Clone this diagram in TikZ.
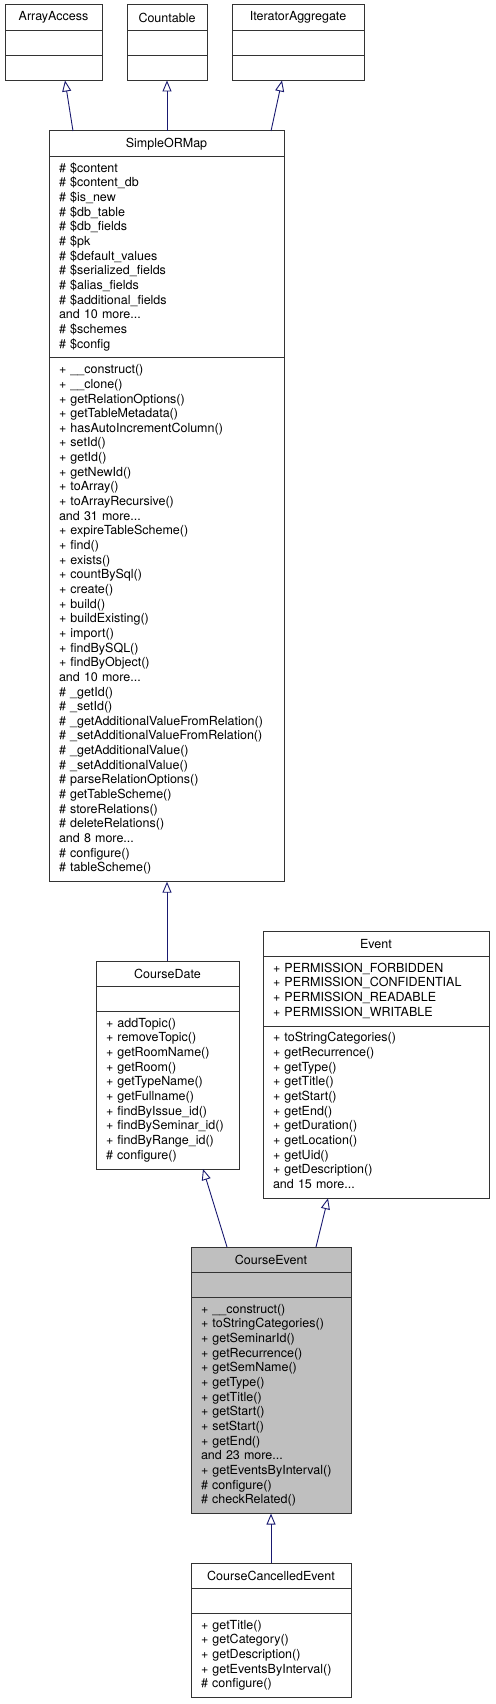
\documentclass[tikz,border=0pt]{standalone}
\usepackage{fontspec}
\setmainfont{TeX Gyre Heros}
\usetikzlibrary{positioning,arrows.meta}
\definecolor{edgeblue}{HTML}{191970}
\begin{document}
\begin{tikzpicture}[x=1pt,y=-1pt]
\tikzset{hd/.style={draw=black!80,line width=1pt,fill=white,outer sep=0pt,inner sep=0pt,anchor=north west,minimum width=#1,minimum height=25.5pt,font=\fontsize{12.5}{14.65}\selectfont},
emp/.style={draw=black!80,line width=1pt,fill=white,outer sep=0pt,inner sep=0pt,minimum width=#1,minimum height=25pt},
sec/.style={draw=black!80,line width=1pt,fill=white,outer sep=0pt,inner xsep=10pt,inner ysep=5.5pt,text width=#1,align=left,font=\fontsize{12.5}{14.65}\selectfont,execute at begin node=\strut,execute at end node=\strut},
gen/.style={draw=edgeblue,line width=0.9pt,-{Triangle[open,length=11pt,width=9pt]}}}
\useasboundingbox(0,0)rectangle(495,1704);
%%Interfaces
\path(5,5)node[hd=97pt](aa){ArrayAccess};
\node[emp=97pt,below=0pt of aa](aa1){};
\node[emp=97pt,below=0pt of aa1](aa2){};
\path(127,5)node[hd=80pt](cnt){Countable};
\node[emp=80pt,below=0pt of cnt](cnt1){};
\node[emp=80pt,below=0pt of cnt1](cnt2){};
\path(232,5)node[hd=132pt](ia){IteratorAggregate};
\node[emp=132pt,below=0pt of ia](ia1){};
\node[emp=132pt,below=0pt of ia1](ia2){};
%%SimpleORMap
\path(49,131)node[hd=235pt](som){SimpleORMap};
\node[sec=215pt,below=0pt of som](som1){\# \$content\\\# \$content\_db\\\# \$is\_new\\\# \$db\_table\\\# \$db\_fields\\\# \$pk\\\# \$default\_values\\\# \$serialized\_fields\\\# \$alias\_fields\\\# \$additional\_fields\\and 10 more...\\\# \$schemes\\\# \$config};
\node[sec=215pt,below=0pt of som1](som2){+ \_\_construct()\\+ \_\_clone()\\+ getRelationOptions()\\+ getTableMetadata()\\+ hasAutoIncrementColumn()\\+ setId()\\+ getId()\\+ getNewId()\\+ toArray()\\+ toArrayRecursive()\\and 31 more...\\+ expireTableScheme()\\+ find()\\+ exists()\\+ countBySql()\\+ create()\\+ build()\\+ buildExisting()\\+ import()\\+ findBySQL()\\+ findByObject()\\and 10 more...\\\# \_getId()\\\# \_setId()\\\# \_getAdditionalValueFromRelation()\\\# \_setAdditionalValueFromRelation()\\\# \_getAdditionalValue()\\\# \_setAdditionalValue()\\\# parseRelationOptions()\\\# getTableScheme()\\\# storeRelations()\\\# deleteRelations()\\and 8 more...\\\# configure()\\\# tableScheme()};
%%Event
\path(263,931)node[hd=226pt](ev){Event};
\node[sec=206pt,below=0pt of ev](ev1){+ PERMISSION\_FORBIDDEN\\+ PERMISSION\_CONFIDENTIAL\\+ PERMISSION\_READABLE\\+ PERMISSION\_WRITABLE};
\node[sec=206pt,below=0pt of ev1](ev2){+ toStringCategories()\\+ getRecurrence()\\+ getType()\\+ getTitle()\\+ getStart()\\+ getEnd()\\+ getDuration()\\+ getLocation()\\+ getUid()\\+ getDescription()\\and 15 more...};
%%CourseDate
\path(96,961)node[hd=143pt](cd){CourseDate};
\node[emp=143pt,below=0pt of cd](cd1){};
\node[sec=123pt,below=0pt of cd1](cd2){+ addTopic()\\+ removeTopic()\\+ getRoomName()\\+ getRoom()\\+ getTypeName()\\+ getFullname()\\+ findByIssue\_id()\\+ findBySeminar\_id()\\+ findByRange\_id()\\\# configure()};
%%CourseEvent
\path(191,1247)node[hd=160pt,fill=black!25](ce){CourseEvent};
\node[emp=160pt,fill=black!25,below=0pt of ce](ce1){};
\node[sec=140pt,fill=black!25,below=0pt of ce1](ce2){+ \_\_construct()\\+ toStringCategories()\\+ getSeminarId()\\+ getRecurrence()\\+ getSemName()\\+ getType()\\+ getTitle()\\+ getStart()\\+ setStart()\\+ getEnd()\\and 23 more...\\+ getEventsByInterval()\\\# configure()\\\# checkRelated()};
%%CourseCancelledEvent
\path(191,1563)node[hd=160pt](cce){CourseCancelledEvent};
\node[emp=160pt,below=0pt of cce](cce1){};
\node[sec=140pt,below=0pt of cce1](cce2){+ getTitle()\\+ getCategory()\\+ getDescription()\\+ getEventsByInterval()\\\# configure()};
\foreach \a/\sa/\b/\sb in {
som/24/aa2/60,som/118/cnt2/40,som/222/ia2/50,
cd/71/som2/118,
ce/36/cd2/107,ce/125/ev2/65,
cce/80/ce2/80}
\draw[gen]([xshift=\sa]\a.north west)--([xshift=\sb]\b.south west);
\end{tikzpicture}
\end{document}
